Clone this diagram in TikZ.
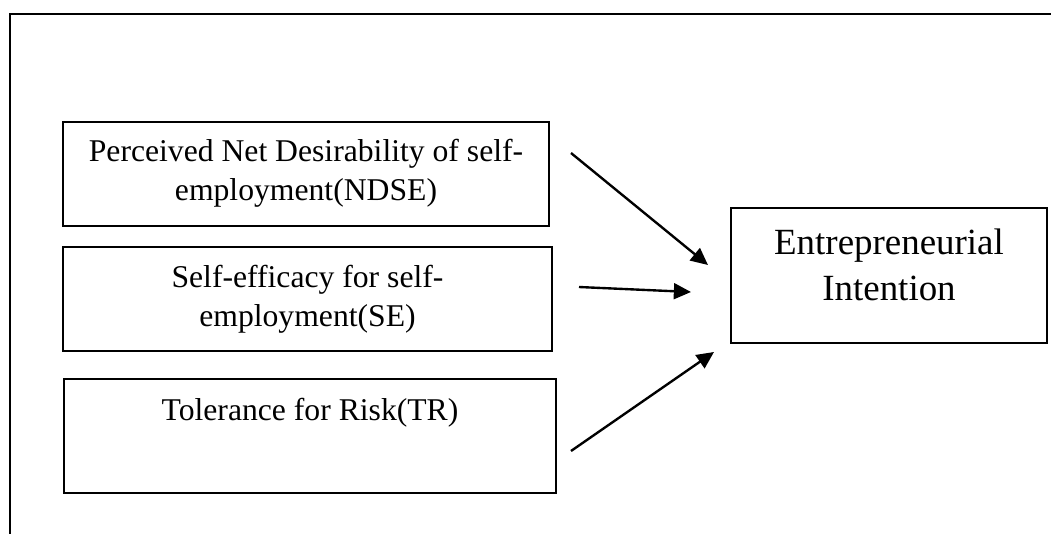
\documentclass[tikz,border=0pt]{standalone}
\usepackage{fontspec}
\setmainfont{Liberation Serif}
\usetikzlibrary{arrows.meta}
\newdimen\pxu
\pxu=0.379pt
\begin{document}
\begin{tikzpicture}[x=0.379pt,y=-0.379pt]
            \useasboundingbox (0,0) rectangle (1051,534);
            \draw[line width=0.6pt] (1051,14) -- (10,14) -- (10,534);
            \begin{scope}[every node/.style={rectangle,draw,line width=0.55pt,inner sep=0pt}]
                \node[minimum width=486\pxu,minimum height=104\pxu] (ndse) at (306,174) {};
                \node[minimum width=489\pxu,minimum height=104\pxu] (se) at (307.5,299) {};
                \node[minimum width=492\pxu,minimum height=114\pxu] (tr) at (310,436) {};
                \node[minimum width=316\pxu,minimum height=135\pxu] (ei) at (889,275.5) {};
            \end{scope}
            \begin{scope}[every node/.style={inner sep=0pt,align=center,anchor=north,font=\fontsize{12}{14.8}\selectfont}]
                \node (ndse-text) at (ndse.north |- 0,139) {Perceived Net Desirability of self-\\employment(NDSE)};
                \node (se-text) at (se.north |- 0,265) {Self-efficacy for self-\\employment(SE)};
                \node (tr-text) at (tr.north |- 0,398) {Tolerance for Risk(TR)};
                \node[font=\fontsize{14}{17.4}\selectfont] (ei-text) at (ei.north |- 0,228) {Entrepreneurial\\Intention};
            \end{scope}
            \coordinate (ndse-out) at (571,153);
            \coordinate (se-out) at (579,287);
            \coordinate (tr-out) at (571,451);
            \coordinate (ei-in1) at (708,265);
            \coordinate (ei-in2) at (691,292);
            \coordinate (ei-in3) at (714,352);
            \begin{scope}[line width=0.9pt]
                \path[-{Triangle[length=6.5pt,width=6pt]}]
                    (ndse-out) edge (ei-in1)
                    (se-out) edge (ei-in2)
                    (tr-out) edge (ei-in3);
            \end{scope}
\end{tikzpicture}
\end{document}
